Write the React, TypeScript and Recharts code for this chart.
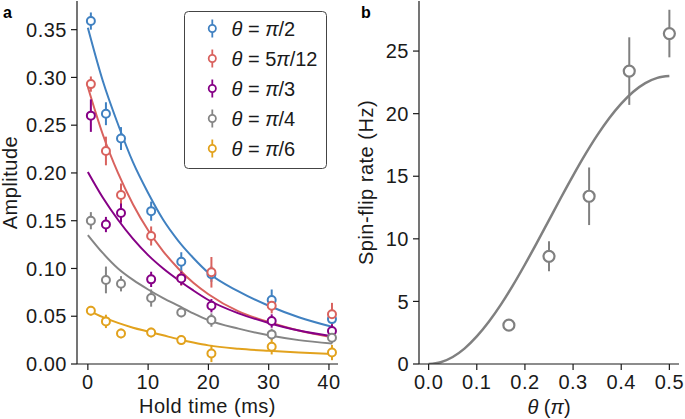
import React from 'react';
import { ComposedChart, Scatter, Line, XAxis, YAxis, ErrorBar, Legend, Label } from 'recharts';

// ---------- Panel a: amplitude vs hold time ----------
const holdTimes = [0.5, 3, 5.5, 10.5, 15.5, 20.5, 30.5, 40.5];
const ampPi2 = [0.359, 0.262, 0.236, 0.160, 0.107, 0.094, 0.067, 0.047];
const errPi2 = [0.009, 0.012, 0.012, 0.010, 0.010, 0.008, 0.011, 0.008];
const amp5Pi12 = [0.293, 0.223, 0.177, 0.134, 0.090, 0.096, 0.061, 0.052];
const err5Pi12 = [0.008, 0.015, 0.012, 0.010, 0.008, 0.016, 0.008, 0.012];
const ampPi3 = [0.260, 0.146, 0.158, 0.0886, 0.0896, 0.061, 0.045, 0.0345];
const errPi3 = [0.017, 0.008, 0.010, 0.008, 0.007, 0.007, 0.007, 0.007];
const ampPi4 = [0.150, 0.088, 0.084, 0.069, 0.054, 0.046, 0.031, 0.0275];
const errPi4 = [0.009, 0.014, 0.008, 0.009, 0.005, 0.007, 0.006, 0.006];
const ampPi6 = [0.0558, 0.0446, 0.032, 0.033, 0.025, 0.011, 0.018, 0.012];
const errPi6 = [0.005, 0.007, 0.005, 0.005, 0.005, 0.009, 0.008, 0.008];

const fitTimes = [0, 2.5, 5, 7.5, 10, 12.5, 15, 17.5, 20, 25, 30, 35, 40.5];
const fitPi2 = [0.352, 0.296, 0.251, 0.211, 0.179, 0.151, 0.129, 0.111, 0.0955, 0.076, 0.061, 0.049, 0.039];
const fit5Pi12 = [0.290, 0.240, 0.200, 0.167, 0.140, 0.118, 0.100, 0.085, 0.073, 0.055, 0.044, 0.035, 0.028];
const fitPi3 = [0.201, 0.174, 0.151, 0.131, 0.114, 0.100, 0.088, 0.077, 0.067, 0.053, 0.043, 0.035, 0.029];
const fitPi4 = [0.135, 0.116, 0.100, 0.088, 0.078, 0.069, 0.061, 0.053, 0.046, 0.037, 0.030, 0.025, 0.0215];
const fitPi6 = [0.0565, 0.049, 0.043, 0.038, 0.034, 0.030, 0.026, 0.0225, 0.0195, 0.016, 0.0138, 0.012, 0.0105];

const ampTicks = [0, 0.05, 0.1, 0.15, 0.2, 0.25, 0.3, 0.35];
const timeTicks = [0, 10, 20, 30, 40];

// ---------- Panel b: spin-flip rate vs theta ----------
const thetaPoints = [0.1667, 0.25, 0.3333, 0.4167, 0.5];
const ratePoints = [3.1, 8.6, 13.4, 23.4, 26.4];
const rateErr = [0, 1.2, 2.3, 2.7, 1.9];
const thetaCurve = [0, 0.025, 0.05, 0.075, 0.1, 0.125, 0.15, 0.175, 0.2, 0.225, 0.25, 0.275, 0.3, 0.325, 0.35, 0.375, 0.4, 0.425, 0.45, 0.475, 0.5];
const rateCurve = [0, 0.14, 0.56, 1.25, 2.2, 3.37, 4.74, 6.28, 7.95, 9.7, 11.5, 13.3, 15.05, 16.72, 18.26, 19.63, 20.8, 21.75, 22.44, 22.86, 23.0];
const thetaTicks = [0, 0.1, 0.2, 0.3, 0.4, 0.5];
const rateTicks = [0, 5, 10, 15, 20, 25];

const FONT = '"Liberation Sans", Arial, Helvetica, sans-serif';
const INK = '#1a1a1a';
const tickStyle = { fill: INK, fontSize: 20, fontFamily: FONT, letterSpacing: 0.5 };

const rows = (xs: number[], ys: number[], es?: number[]) =>
  xs.map((t, i) => ({ t, y: ys[i], e: es ? es[i] : 0 }));

const seriesA = [
  { key: 'pi2', color: '#4081c1', amp: ampPi2, err: errPi2, fit: fitPi2, pre: '', post: '/2' },
  { key: '5pi12', color: '#d9625e', amp: amp5Pi12, err: err5Pi12, fit: fit5Pi12, pre: '5', post: '/12' },
  { key: 'pi3', color: '#860086', amp: ampPi3, err: errPi3, fit: fitPi3, pre: '', post: '/3' },
  { key: 'pi4', color: '#858585', amp: ampPi4, err: errPi4, fit: fitPi4, pre: '', post: '/4' },
  { key: 'pi6', color: '#e2a21d', amp: ampPi6, err: errPi6, fit: fitPi6, pre: '', post: '/6' },
];

const GRAY_B = '#808080';

const LegendBox = () => (
  <svg width={143} height={158} style={{ display: 'block' }}>
    <rect x={0.5} y={0.5} width={142} height={157} rx={4} ry={4} fill="#fff" fillOpacity={0.85} stroke="#444" strokeWidth={1} />
    {seriesA.map((s, i) => {
      const cy = 17.5 + 30 * i;
      return (
        <g key={s.key}>
          <line x1={28.3} x2={28.3} y1={cy - 9} y2={cy + 9} stroke={s.color} strokeWidth={1.8} />
          <circle cx={28.3} cy={cy} r={3.6} fill="#fff" stroke={s.color} strokeWidth={1.8} />
          <text x={47.5} y={cy + 7} fontSize={20} fontFamily={FONT} fill={INK}>
            <tspan fontStyle="italic">θ</tspan>
            {' = ' + s.pre}
            <tspan fontStyle="italic">π</tspan>
            {s.post}
          </text>
        </g>
      );
    })}
  </svg>
);

const circleShape = (color: string, r: number, sw: number) => (p: any) =>
  p && p.cx != null ? <circle cx={p.cx} cy={p.cy} r={r} fill="#fff" stroke={color} strokeWidth={sw} /> : <g />;

const PanelA = () => (
  <ComposedChart width={345} height={419} margin={{ top: 1, right: 7, left: 0, bottom: 0 }}>
    <XAxis
      xAxisId="main"
      type="number"
      dataKey="t"
      domain={[-1.8, 41.5]}
      ticks={timeTicks}
      allowDataOverflow
      height={55}
      tickSize={6}
      tickMargin={5}
      tick={tickStyle}
      stroke={INK}
      axisLine={{ stroke: INK, strokeWidth: 1.2 }}
      tickLine={{ stroke: INK, strokeWidth: 1.2 }}
    >
      <Label
        content={(p: any) => {
          const vb = p.viewBox || { x: 77, y: 364, width: 261 };
          return (
            <text x={vb.x + vb.width / 2} y={vb.y + 49} textAnchor="middle" fontSize={20} fontFamily={FONT} fill={INK} letterSpacing={0.5}>
              Hold time (ms)
            </text>
          );
        }}
      />
    </XAxis>
    <XAxis xAxisId="top" orientation="top" type="number" domain={[-1.8, 41.5]} height={0} tick={false} tickLine={false} axisLine={{ stroke: INK, strokeWidth: 1.2 }} />
    <YAxis
      yAxisId="main"
      type="number"
      domain={[0, 0.38]}
      ticks={ampTicks}
      allowDataOverflow
      width={77}
      tickSize={6}
      tickMargin={4}
      tick={tickStyle}
      tickFormatter={(v: number) => v.toFixed(2)}
      axisLine={{ stroke: INK, strokeWidth: 1.2 }}
      tickLine={{ stroke: INK, strokeWidth: 1.2 }}
    >
      <Label
        content={(p: any) => {
          const vb = p.viewBox || { x: 0, y: 1, height: 363 };
          const cx = 16.5;
          const cy = vb.y + vb.height / 2;
          return (
            <text x={cx} y={cy} textAnchor="middle" transform={`rotate(-90, ${cx}, ${cy})`} fontSize={20} fontFamily={FONT} fill={INK} letterSpacing={0.5}>
              Amplitude
            </text>
          );
        }}
      />
    </YAxis>
    <YAxis yAxisId="right" orientation="right" type="number" domain={[0, 0.38]} width={0} tick={false} tickLine={false} axisLine={{ stroke: INK, strokeWidth: 1.2 }} />
    {seriesA.map((s) => (
      <Line
        key={'fit-' + s.key}
        xAxisId="main"
        yAxisId="main"
        data={rows(fitTimes, s.fit)}
        dataKey="y"
        type="monotone"
        stroke={s.color}
        strokeWidth={2}
        dot={false}
        activeDot={false}
        isAnimationActive={false}
      />
    ))}
    {seriesA.map((s) => (
      <Scatter
        key={'pts-' + s.key}
        xAxisId="main"
        yAxisId="main"
        data={rows(holdTimes, s.amp, s.err)}
        dataKey="y"
        shape={circleShape(s.color, 4, 2)}
        isAnimationActive={false}
      >
        <ErrorBar dataKey="e" direction="y" width={0} stroke={s.color} strokeWidth={2} isAnimationActive={false} />
      </Scatter>
    ))}
    <Legend
      layout="horizontal"
      verticalAlign="middle"
      align="center"
      wrapperStyle={{ position: 'absolute', left: 184, top: 11, width: 143, height: 158 }}
      content={() => <LegendBox />}
    />
  </ComposedChart>
);

const PanelB = () => (
  <ComposedChart width={340} height={419} margin={{ top: 1, right: 6, left: 0, bottom: 0 }}>
    <XAxis
      xAxisId="main"
      type="number"
      dataKey="t"
      domain={[-0.02, 0.52]}
      ticks={thetaTicks}
      allowDataOverflow
      height={55}
      tickSize={6}
      tickMargin={5}
      tick={tickStyle}
      tickFormatter={(v: number) => v.toFixed(1)}
      axisLine={{ stroke: INK, strokeWidth: 1.2 }}
      tickLine={{ stroke: INK, strokeWidth: 1.2 }}
    >
      <Label
        content={(p: any) => {
          const vb = p.viewBox || { x: 74, y: 364, width: 260 };
          return (
            <text x={vb.x + vb.width / 2} y={vb.y + 50} textAnchor="middle" fontSize={20} fontFamily={FONT} fill={INK}>
              <tspan fontStyle="italic">θ</tspan>
              {' ('}
              <tspan fontStyle="italic">π</tspan>
              {')'}
            </text>
          );
        }}
      />
    </XAxis>
    <XAxis xAxisId="top" orientation="top" type="number" domain={[-0.02, 0.52]} height={0} tick={false} tickLine={false} axisLine={{ stroke: INK, strokeWidth: 1.2 }} />
    <YAxis
      yAxisId="main"
      type="number"
      domain={[0, 29]}
      ticks={rateTicks}
      allowDataOverflow
      width={74}
      tickSize={6}
      tickMargin={4}
      tick={tickStyle}
      axisLine={{ stroke: INK, strokeWidth: 1.2 }}
      tickLine={{ stroke: INK, strokeWidth: 1.2 }}
    >
      <Label
        content={(p: any) => {
          const vb = p.viewBox || { x: 0, y: 1, height: 363 };
          const cx = 28;
          const cy = vb.y + vb.height / 2;
          return (
            <text x={cx} y={cy} textAnchor="middle" transform={`rotate(-90, ${cx}, ${cy})`} fontSize={20} fontFamily={FONT} fill={INK} letterSpacing={0.5}>
              Spin-flip rate (Hz)
            </text>
          );
        }}
      />
    </YAxis>
    <YAxis yAxisId="right" orientation="right" type="number" domain={[0, 29]} width={0} tick={false} tickLine={false} axisLine={{ stroke: INK, strokeWidth: 1.2 }} />
    <Line
      xAxisId="main"
      yAxisId="main"
      data={rows(thetaCurve, rateCurve)}
      dataKey="y"
      type="monotone"
      stroke={GRAY_B}
      strokeWidth={2.5}
      dot={false}
      activeDot={false}
      isAnimationActive={false}
    />
    <Scatter
      xAxisId="main"
      yAxisId="main"
      data={rows(thetaPoints, ratePoints, rateErr)}
      dataKey="y"
      shape={circleShape(GRAY_B, 5.5, 2.2)}
      isAnimationActive={false}
    >
      <ErrorBar dataKey="e" direction="y" width={0} stroke={GRAY_B} strokeWidth={2} isAnimationActive={false} />
    </Scatter>
  </ComposedChart>
);

export default function App() {
  return (
    <div style={{ position: 'absolute', left: 0, top: 0, width: 685, height: 419, background: '#fff', fontFamily: FONT }}>
      <div style={{ position: 'absolute', left: 0, top: 0 }}>
        <PanelA />
      </div>
      <div style={{ position: 'absolute', left: 345, top: 0 }}>
        <PanelB />
      </div>
      <svg width={685} height={30} style={{ position: 'absolute', left: 0, top: 0, pointerEvents: 'none' }}>
        <text x={3} y={18} fontSize={16} fontWeight="bold" fontFamily={FONT} fill="#000">a</text>
        <text x={361} y={18} fontSize={16} fontWeight="bold" fontFamily={FONT} fill="#000">b</text>
      </svg>
    </div>
  );
}
